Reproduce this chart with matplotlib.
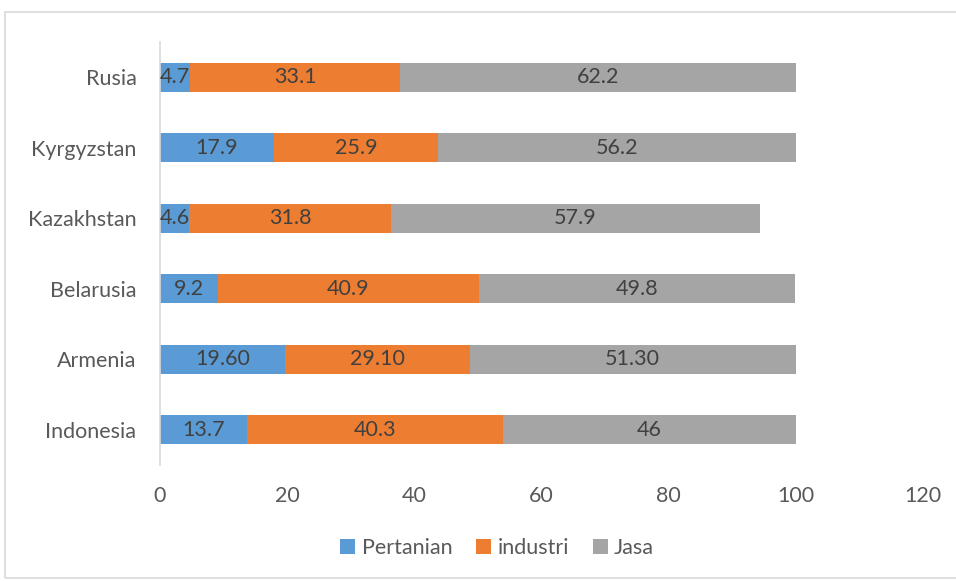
import numpy as np
import matplotlib.pyplot as plt
from matplotlib.patches import Rectangle

countries = ['Indonesia', 'Armenia', 'Belarusia', 'Kazakhstan', 'Kyrgyzstan', 'Rusia']
pertanian = [13.7, 19.6, 9.2, 4.6, 17.9, 4.7]
industri = [40.3, 29.1, 40.9, 31.8, 25.9, 33.1]
jasa = [46, 51.3, 49.8, 57.9, 56.2, 62.2]
lbl_pertanian = ['13.7', '19.60', '9.2', '4.6', '17.9', '4.7']
lbl_industri = ['40.3', '29.10', '40.9', '31.8', '25.9', '33.1']
lbl_jasa = ['46', '51.30', '49.8', '57.9', '56.2', '62.2']

colors = ['#5b9bd5', '#ed7d31', '#a5a5a5']
txt = '#595959'
fs = 15.5
plt.rcParams['font.family'] = ['Lato', 'DejaVu Sans']

fig = plt.figure(figsize=(9.56, 5.81), dpi=100)
ax = fig.add_axes([160/956, 1 - 465/581, (923-160)/956, 423/581])

# chart border
fig.patches.append(Rectangle((5/956, 0.005), 1.0, 1 - 12/581 - 0.005, transform=fig.transFigure,
                             fill=False, edgecolor='#d9d9d9', linewidth=1.2))

y = np.arange(len(countries))
h = 0.41
left = np.zeros(len(countries))
series = [(pertanian, lbl_pertanian, 'Pertanian'), (industri, lbl_industri, 'industri'), (jasa, lbl_jasa, 'Jasa')]
for (vals, lbls, name), c in zip(series, colors):
    vals = np.array(vals)
    bars = ax.barh(y, vals, left=left, height=h, color=c, label=name)
    ax.bar_label(bars, labels=lbls, label_type='center', color='#404040', fontsize=fs)
    left += vals

ax.set_xlim(0, 120)
ax.set_ylim(-0.5, len(countries) - 0.5)
ax.set_xticks(np.arange(0, 121, 20))
ax.set_yticks(y)
ax.set_yticklabels(countries)
for s in ['top', 'right', 'bottom']:
    ax.spines[s].set_visible(False)
ax.spines['left'].set_color('#d9d9d9')
ax.spines['left'].set_linewidth(1.2)
ax.tick_params(axis='both', length=0, labelsize=fs, colors=txt)
ax.tick_params(axis='x', pad=15)
ax.tick_params(axis='y', pad=17)

fig.legend(loc='center', bbox_to_anchor=(0.52, 1 - 548/581), ncol=3, frameon=False,
           fontsize=fs, labelcolor=txt, handlelength=0.7, handleheight=0.7,
           handletextpad=0.3, columnspacing=1.1)

fig.savefig('out.png', dpi=100)
